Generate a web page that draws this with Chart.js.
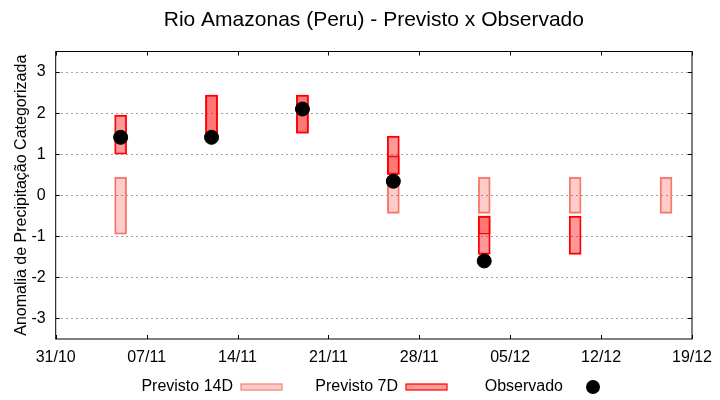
<!DOCTYPE html>
<html lang="pt">
<head>
  <meta charset="UTF-8">
  <title>Rio Amazonas (Peru) - Previsto x Observado</title>
  <script src="https://cdn.jsdelivr.net/npm/chart.js"></script>
  <style>
    html, body { margin: 0; padding: 0; background: #fff; }
    #wrap { width: 720px; height: 400px; }
  </style>
</head>
<body>
  <div id="wrap"><canvas id="chuva"></canvas></div>

  <script>
    // eixo x: dias contados a partir desta data
    const startDate = '2024-10-31';
    const xTickLabels = ['31/10', '07/11', '14/11', '21/11', '28/11', '05/12', '12/12', '19/12'];
    const yTicks = [-3, -2, -1, 0, 1, 2, 3];

    // previsao 14 dias (faixa da categoria)
    const prev14Dates = ['2024-11-05', '2024-11-26', '2024-12-03', '2024-12-10', '2024-12-17'];
    const prev14Lo = [-0.95, -0.44, -0.44, -0.44, -0.44];
    const prev14Hi = [0.44, 0.44, 0.44, 0.44, 0.44];

    // previsao 7 dias
    const prev7Dates = ['2024-11-05', '2024-11-12', '2024-11-19', '2024-11-26', '2024-12-03', '2024-12-10'];
    const prev7Lo = [1.0, 1.45, 1.51, 0.51, -1.44, -1.44];
    const prev7Hi = [1.95, 2.44, 2.44, 1.44, -0.51, -0.51];

    // segunda rodada 7 dias (sobreposta)
    const prev7bDates = ['2024-11-12', '2024-11-19', '2024-11-26', '2024-12-03'];
    const prev7bLo = [1.45, 1.51, 0.51, -0.95];
    const prev7bHi = [2.44, 2.44, 0.96, -0.51];

    // observado
    const obsDates = ['2024-11-05', '2024-11-12', '2024-11-19', '2024-11-26', '2024-12-03'];
    const obsValues = [1.41, 1.41, 2.10, 0.34, -1.60];

    function dayOf(d) {
      return Math.round((Date.parse(d + 'T00:00:00Z') - Date.parse(startDate + 'T00:00:00Z')) / 86400000);
    }
    function ranges(dates, lo, hi) {
      return dates.map((d, i) => ({ x: dayOf(d), y: [lo[i], hi[i]] }));
    }

    const FONT = '"Liberation Sans", Arial, sans-serif';

    // legenda no estilo gnuplot + moldura com ticks para dentro
    const frame = {
      id: 'frame',
      afterDraw(chart) {
        const ctx = chart.ctx;
        const a = chart.chartArea;
        const xs = chart.scales.x, ys = chart.scales.y;
        ctx.save();
        ctx.strokeStyle = '#000';
        ctx.lineWidth = 1;
        ctx.strokeRect(a.left, a.top, a.right - a.left, a.bottom - a.top);
        ctx.beginPath();
        xs.ticks.forEach(t => {
          const px = Math.round(xs.getPixelForValue(t.value)) + 0.5;
          ctx.moveTo(px, a.bottom); ctx.lineTo(px, a.bottom - 4);
          ctx.moveTo(px, a.top); ctx.lineTo(px, a.top + 4);
        });
        ys.ticks.forEach(t => {
          const py = Math.round(ys.getPixelForValue(t.value)) + 0.5;
          ctx.moveTo(a.left, py); ctx.lineTo(a.left + 4, py);
          ctx.moveTo(a.right, py); ctx.lineTo(a.right - 4, py);
        });
        ctx.stroke();

        // legenda
        const ly = 387;
        ctx.font = '16px ' + FONT;
        ctx.fillStyle = '#000';
        ctx.textAlign = 'right';
        ctx.textBaseline = 'middle';
        const ds = chart.data.datasets;
        const items = [
          { text: ds[0].label, tx: 233, box: ds[0] },
          { text: ds[1].label, tx: 398, box: ds[1] },
          { text: ds[3].label, tx: 563, dot: ds[3] }
        ];
        items.forEach(it => {
          ctx.fillStyle = '#000';
          ctx.fillText(it.text, it.tx, ly);
          if (it.box) {
            ctx.fillStyle = it.box.backgroundColor;
            ctx.fillRect(it.tx + 8, ly - 3, 41, 6);
            ctx.strokeStyle = it.box.borderColor;
            ctx.lineWidth = 1.2;
            ctx.strokeRect(it.tx + 8, ly - 3, 41, 6);
          } else {
            ctx.fillStyle = it.dot.backgroundColor;
            ctx.beginPath();
            ctx.arc(it.tx + 30, ly, 7, 0, Math.PI * 2);
            ctx.fill();
          }
        });
        ctx.restore();
      }
    };

    const ctx = document.getElementById('chuva').getContext('2d');
    const chart = new Chart(ctx, {
      type: 'bar',
      data: {
        datasets: [
          {
            label: 'Previsto 14D',
            data: ranges(prev14Dates, prev14Lo, prev14Hi),
            backgroundColor: 'rgba(255, 0, 0, 0.2)',
            borderColor: '#f4806f',
            borderWidth: 1.2,
            borderSkipped: false,
            barThickness: 12,
            grouped: false,
            order: 3
          },
          {
            label: 'Previsto 7D',
            data: ranges(prev7Dates, prev7Lo, prev7Hi),
            backgroundColor: 'rgba(255, 0, 0, 0.4)',
            borderColor: '#ff0000',
            borderWidth: 1.2,
            borderSkipped: false,
            barThickness: 12,
            grouped: false,
            order: 2
          },
          {
            label: 'Previsto 7D (2)',
            data: ranges(prev7bDates, prev7bLo, prev7bHi),
            backgroundColor: 'rgba(255, 0, 0, 0.22)',
            borderColor: '#ff0000',
            borderWidth: 1,
            borderSkipped: false,
            barThickness: 12,
            grouped: false,
            order: 1
          },
          {
            type: 'scatter',
            label: 'Observado',
            data: obsDates.map((d, i) => ({ x: dayOf(d), y: obsValues[i] })),
            backgroundColor: '#000',
            borderColor: '#000',
            pointRadius: 7,
            order: 0
          }
        ]
      },
      options: {
        responsive: true,
        maintainAspectRatio: false,
        animation: false,
        layout: { padding: { left: 0, right: 28, top: 0, bottom: 0 } },
        plugins: {
          legend: { display: false },
          tooltip: { enabled: false },
          title: {
            display: true,
            text: 'Rio Amazonas (Peru) - Previsto x Observado',
            color: '#000',
            fullSize: false,
            font: { family: FONT, size: 21, weight: 'normal' },
            padding: { top: 8, bottom: 18.3 }
          }
        },
        scales: {
          x: {
            type: 'linear',
            min: 0,
            max: (xTickLabels.length - 1) * 7,
            offset: false,
            grid: { display: false },
            border: { display: false },
            afterBuildTicks: s => { s.ticks = xTickLabels.map((_, i) => ({ value: i * 7 })); },
            afterFit: s => { s.height = 61; },
            ticks: {
              color: '#000',
              padding: 1,
              maxRotation: 0,
              autoSkip: false,
              font: { family: FONT, size: 16 },
              callback: v => xTickLabels[v / 7]
            }
          },
          y: {
            min: -3.5,
            max: 3.5,
            afterBuildTicks: s => { s.ticks = yTicks.map(v => ({ value: v })); },
            afterFit: s => { s.width = 55.7; },
            grid: { color: '#a0a0a0', lineWidth: 1, drawTicks: false },
            border: { display: false, dash: [2, 3] },
            title: {
              display: true,
              text: 'Anomalia de Precipitação Categorizada',
              color: '#000',
              font: { family: FONT, size: 16 },
              padding: { top: 12, bottom: 0 }
            },
            ticks: {
              color: '#000',
              padding: 10,
              font: { family: FONT, size: 16 }
            }
          }
        }
      },
      plugins: [frame]
    });
  </script>
</body>
</html>
